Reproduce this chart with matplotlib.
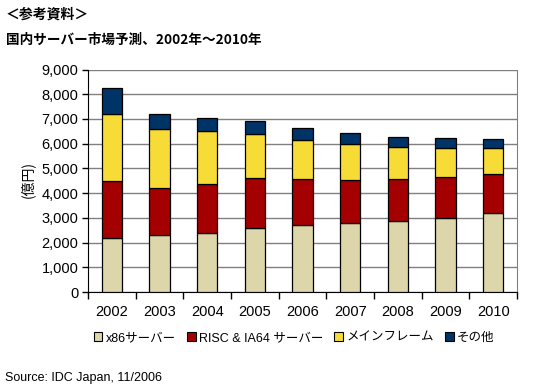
import numpy as np
import matplotlib
matplotlib.use("Agg")
import matplotlib.pyplot as plt
from matplotlib.patches import Patch

plt.rcParams['font.family'] = ['Liberation Sans', 'Noto Sans CJK JP', 'DejaVu Sans']

# =========================
# DATA (億円)
# =========================
years = ["2002", "2003", "2004", "2005", "2006", "2007", "2008", "2009", "2010"]
x86 = [2200, 2300, 2400, 2600, 2700, 2780, 2880, 3000, 3200]
risc_ia64 = [2300, 1900, 1950, 2030, 1870, 1760, 1710, 1650, 1570]
mainframe = [2700, 2400, 2150, 1770, 1580, 1460, 1290, 1190, 1050]
other = [1050, 600, 550, 500, 500, 450, 400, 380, 360]

series_names = ["x86サーバー", "RISC & IA64 サーバー", "メインフレーム", "その他"]
colors = ["#DDD6AA", "#A50000", "#F7DC38", "#003366"]

# =========================
# FIGURE
# =========================
fig = plt.figure(figsize=(5.35, 3.9), dpi=100)
ax = fig.add_axes([88 / 535, 1 - 292 / 390, 429 / 535, 222.5 / 390])

x = np.arange(len(years))
bottom = np.zeros(len(years))
for vals, col in zip([x86, risc_ia64, mainframe, other], colors):
    ax.bar(x, vals, width=0.42, bottom=bottom, color=col,
           edgecolor="black", linewidth=0.9, zorder=3)
    bottom += np.array(vals)

ax.set_xlim(-0.5, len(years) - 0.5)
ax.set_ylim(0, 9000)
ax.set_yticks(np.arange(0, 9001, 1000))
ax.set_yticklabels([f"{v:,}" for v in range(0, 9001, 1000)])
ax.yaxis.grid(True, color="#808080", linewidth=1.0, zorder=0)

# x ticks between categories
ax.set_xticks(x)
ax.set_xticklabels(years)
ax.set_xticks(np.arange(-0.5, len(years), 1), minor=True)
ax.tick_params(axis="x", which="major", length=0, pad=9, labelsize=10.5)
ax.tick_params(axis="x", which="minor", length=5, width=1, direction="out")
ax.tick_params(axis="y", length=4, width=1, direction="out", labelsize=10.5, pad=3)

ax.spines["top"].set_visible(False)
ax.spines["right"].set_color("#808080")
ax.spines["left"].set_color("black")
ax.spines["bottom"].set_color("black")

# y label
fig.text(28 / 535, 1 - 180 / 390, "(億円)", rotation=90, ha="center", va="center",
         fontsize=10, family=["Noto Sans CJK JP"])

# titles
fig.text(6 / 535, 1 - 15 / 390, "＜参考資料＞", ha="left", va="center",
         fontsize=10, fontweight="bold", family=["Noto Sans CJK JP"])
fig.text(6 / 535, 1 - 40 / 390, "国内サーバー市場予測、2002年～2010年", ha="left", va="center",
         fontsize=9.8, fontweight="bold", family=["Noto Sans CJK JP"])

# legend
handles = [Patch(facecolor=c, edgecolor="black", linewidth=0.8) for c in colors]
fig.legend(handles, series_names, loc="center", bbox_to_anchor=(294 / 535, 1 - 338 / 390),
           ncol=4, frameon=False, fontsize=9, handlelength=0.7, handleheight=0.7,
           handletextpad=0.25, columnspacing=0.9)

# source
fig.text(5 / 535, 1 - 378 / 390, "Source: IDC Japan, 11/2006", ha="left", va="center",
         fontsize=9)

fig.savefig("out.png", dpi=100)
